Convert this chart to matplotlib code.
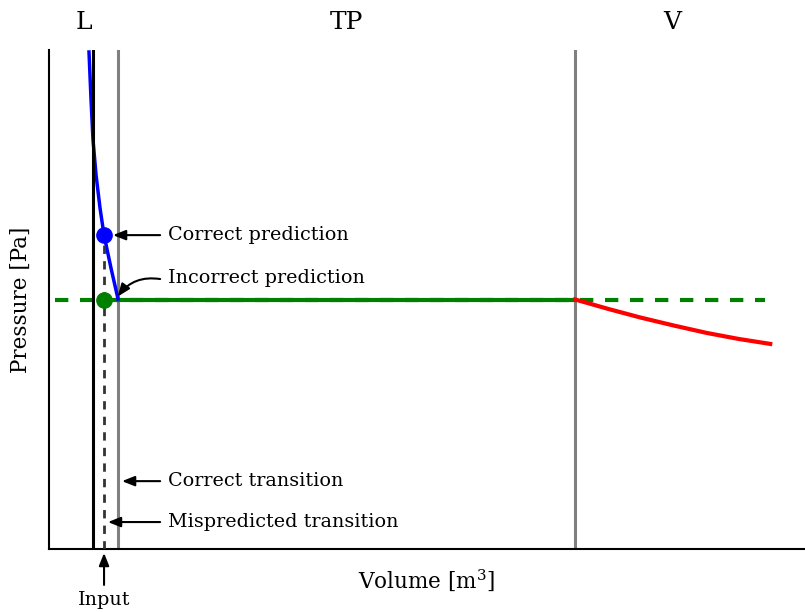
import matplotlib
matplotlib.use("Agg")
import matplotlib.pyplot as plt

plt.rcParams["font.family"] = ["DejaVu Serif"]
plt.rcParams["mathtext.fontset"] = "dejavuserif"

# Liquid branch (steep isotherm), in arbitrary volume / pressure units
liquid_v = [5.29, 5.56, 5.82, 6.22, 6.75, 7.28, 8.20, 9.13]
liquid_p = [99.6, 90.0, 82.0, 75.0, 68.3, 62.9, 56.3, 50.1]

# Vapour branch
vapour_v = [69.6, 74.0, 78.2, 82.6, 87.0, 91.2, 95.4]
vapour_p = [50.0, 48.1, 46.4, 44.8, 43.3, 42.1, 41.1]

# Saturation pressure and phase boundaries
p_sat = 50.0
v_liquid_sat = 9.13
v_vapour_sat = 69.6
v_input = 5.82
v_mispredicted = 7.28
p_correct = 62.9

region_labels = ["L", "TP", "V"]
region_centers = [4.565, 39.37, 82.5]

fig = plt.figure(figsize=(8.05, 6.12), dpi=100)
ax = fig.add_axes([49 / 805, 1 - 549 / 612, 1 - 49 / 805, (549 - 50) / 612])
ax.set_xlim(0, 100)
ax.set_ylim(0, 100)

# phase boundaries
ax.axvline(v_liquid_sat, color="gray", lw=2.2, zorder=2)
ax.axvline(v_vapour_sat, color="gray", lw=2.2, zorder=2)

# saturation pressure (dashed across, solid in two-phase region)
ax.plot([0.8, 94.7], [p_sat, p_sat], color="green", lw=3, dashes=(3.2, 2.8), zorder=3)
ax.plot([v_liquid_sat, v_vapour_sat], [p_sat, p_sat], color="green", lw=3, zorder=3)

# isotherm branches
ax.plot(liquid_v, liquid_p, color="blue", lw=2.5, zorder=3)
ax.plot(vapour_v, vapour_p, color="red", lw=3, zorder=3)

# input volume and mispredicted transition
ax.axvline(v_input, color="black", lw=2.2, zorder=4)
ax.plot([v_mispredicted, v_mispredicted], [0, p_correct], color="#333333", lw=2.0,
        dashes=(3.0, 2.6), zorder=3)

ax.plot([v_mispredicted], [p_correct], "o", color="blue", ms=11, zorder=5)
ax.plot([v_mispredicted], [p_sat], "o", color="green", ms=11, zorder=5)

arrow = dict(arrowstyle="-|>,head_length=0.75,head_width=0.3", color="black", lw=1.5,
             shrinkA=0, shrinkB=0)
fs = 13.8

ax.annotate("", xy=(8.47, p_correct), xytext=(14.7, p_correct), arrowprops=arrow)
ax.text(15.74, p_correct, "Correct prediction", fontsize=fs, va="center", ha="left")

ax.annotate("", xy=(9.1, 50.6), xytext=(14.7, 54.1),
            arrowprops=dict(arrow, connectionstyle="arc3,rad=0.3"))
ax.text(15.74, 54.3, "Incorrect prediction", fontsize=fs, va="center", ha="left")

ax.annotate("", xy=(9.66, 13.6), xytext=(14.7, 13.6), arrowprops=arrow)
ax.text(15.74, 13.6, "Correct transition", fontsize=fs, va="center", ha="left")

ax.annotate("", xy=(7.8, 5.4), xytext=(14.7, 5.4), arrowprops=arrow)
ax.text(15.74, 5.4, "Mispredicted transition", fontsize=fs, va="center", ha="left")

ax.annotate("", xy=(v_mispredicted, -0.8), xytext=(v_mispredicted, -7.2),
            arrowprops=arrow, annotation_clip=False)
ax.text(v_mispredicted, -10.3, "Input", fontsize=fs, va="center", ha="center", clip_on=False)

for lab, xc in zip(region_labels, region_centers):
    ax.text(xc, 105.5, lab, fontsize=18, ha="center", va="center", clip_on=False)

ax.set_xlabel(r"Volume [m$^3$]", fontsize=15.5, labelpad=13)
ax.set_ylabel("Pressure [Pa]", fontsize=15.5, labelpad=12)
ax.set_xticks([])
ax.set_yticks([])
for s in ["top", "right"]:
    ax.spines[s].set_visible(False)
for s in ["left", "bottom"]:
    ax.spines[s].set_linewidth(1.5)

fig.savefig("out.png", dpi=100)
